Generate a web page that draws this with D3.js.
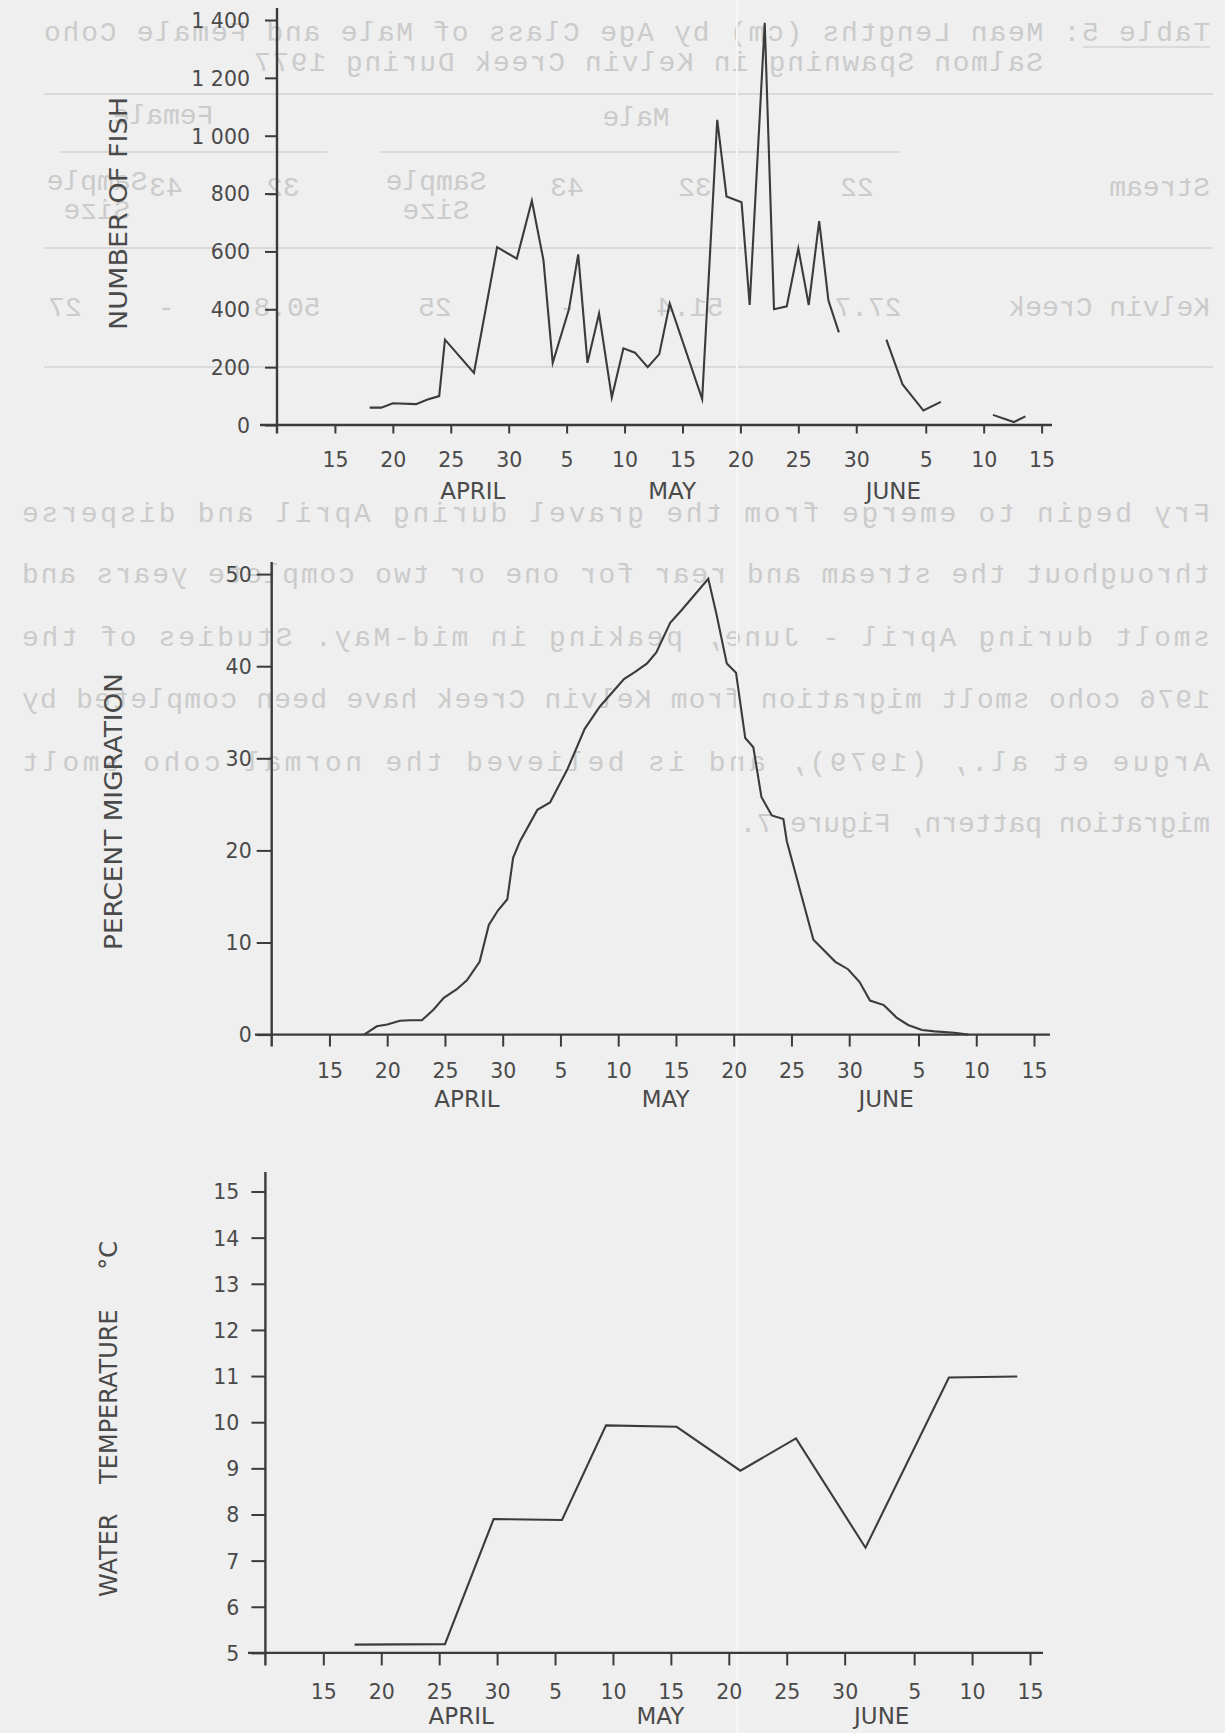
<!DOCTYPE html>
<html>
<head>
<meta charset="utf-8">
<script src="https://cdn.jsdelivr.net/npm/d3@7/dist/d3.min.js"></script>
<style>
  html, body { margin: 0; padding: 0; background: #efefef; }
  svg { display: block; }
</style>
</head>
<body>
<svg id="chart" width="1225" height="1733"></svg>
<script>
// ---------------- DATA (days counted from 31 March: 1 May = 31, 1 June = 62) ----------------
const fishDays   = [18, 19, 20, 22, 23, 24, 24.5, 27, 29, 30.7, 32, 33, 33.8, 35.2, 36, 36.8, 37.8, 38.9, 39.9, 40.9, 42, 43, 43.9, 46.7, 48, 48.8, 50.1, 50.8, 52.1, 52.9, 54, 55, 55.9, 56.8, 57.6, 58.5, 60.5, 62.6, 64, 65.8, 67.3, 69.5, 71.8, 73.6, 74.6];
const fishCounts = [60, 60, 75, 72, 88, 100, 295, 180, 615, 575, 775, 570, 215, 400, 590, 215, 385, 95, 265, 250, 200, 245, 420, 90, 1055, 790, 770, 415, 1390, 400, 410, 610, 415, 705, 430, 320, null, 295, 140, 50, 80, null, 35, 10, 30];

const pctDays   = [18, 19.1, 20, 21.1, 22, 23, 24, 24.9, 26, 26.9, 28, 28.8, 29.6, 30.4, 30.9, 31.5, 33, 34.1, 35.6, 37.1, 38.4, 40.5, 41.5, 42.5, 43.3, 44.5, 45.5, 47.8, 48.5, 49.4, 50.2, 51.0, 51.7, 52.4, 53.3, 54.3, 54.6, 56.9, 58.8, 59.9, 60.9, 61.8, 63.0, 64.1, 65.1, 66.3, 67.4, 69.1, 70.3];
const pctValues = [0, 0.9, 1.1, 1.5, 1.55, 1.55, 2.7, 4.0, 4.9, 5.9, 7.9, 11.9, 13.5, 14.7, 19.2, 21.0, 24.4, 25.2, 28.8, 33.2, 35.6, 38.6, 39.4, 40.3, 41.5, 44.7, 46.1, 49.5, 45.7, 40.3, 39.3, 32.2, 31.2, 25.8, 23.8, 23.4, 21.0, 10.3, 7.9, 7.1, 5.7, 3.7, 3.2, 1.85, 1.05, 0.5, 0.35, 0.2, 0];

const tempDays   = [17.7, 25.5, 29.7, 35.6, 39.4, 45.5, 51.0, 55.8, 61.8, 69.0, 74.9];
const tempValues = [5.18, 5.19, 7.9, 7.88, 9.93, 9.9, 8.95, 9.65, 7.28, 10.97, 10.99];

const dayTicks      = [15, 20, 25, 30, 35, 40, 45, 50, 55, 60, 66, 71, 76];
const dayTickLabels = ["15", "20", "25", "30", "5", "10", "15", "20", "25", "30", "5", "10", "15"];
const monthNames = ["APRIL", "MAY", "JUNE"];
const monthDays  = [26.9, 44.1, 63.2];

const fishTicks      = [0, 200, 400, 600, 800, 1000, 1200, 1400];
const fishTickLabels = ["0", "200", "400", "600", "800", "1 000", "1 200", "1 400"];
const pctTicks       = [0, 10, 20, 30, 40, 50];
const tempTicks      = [5, 6, 7, 8, 9, 10, 11, 12, 13, 14, 15];

// show-through text of the reverse page (mirrored in the scan)
const ghostTitle = ["Table 5: Mean Lengths (cm) by Age Class of Male and Female Coho",
                    "Salmon Spawning in Kelvin Creek During 1977"];
const ghostHeader = ["Male", "Female"];
const ghostRow1 = ["Stream", "22", "32", "43", "Sample", "32", "43", "Sample"];
const ghostRow2 = ["Kelvin Creek", "27.7", "51.4", "-", "25", "50.8", "-", "27"];
const ghostPara = [
  "Fry begin to emerge from the gravel during April and disperse",
  "throughout the stream and rear for one or two complete years and",
  "smolt during April - June, peaking in mid-May.  Studies of the",
  "1976 coho smolt migration from Kelvin Creek have been completed by",
  "Argue et al., (1979), and is believed the normal coho smolt",
  "migration pattern, Figure 7."
];

// ---------------- LAYOUT ----------------
const svg = d3.select("#chart");
const INK = "#3b3b3b", TXT = "#4a4a4a", GHOST = "#cbcbcb";
const FONT = "'DejaVu Sans', 'Noto Sans', sans-serif";

// ---- ghost (show-through) layer ----
const g0 = svg.append("g").attr("transform", "translate(1225,0) scale(-1,1)")
  .attr("fill", GHOST).attr("font-family", "'Liberation Mono', 'DejaVu Sans Mono', monospace").attr("font-size", 28);
g0.append("text").attr("x", 15).attr("y", 41).attr("textLength", 1166).attr("lengthAdjust", "spacing").text(ghostTitle[0]);
g0.append("text").attr("x", 182).attr("y", 71).attr("textLength", 789).attr("lengthAdjust", "spacing").text(ghostTitle[1]);
const ghostRules = [[15, 142, 47], [12, 1181, 94], [325, 845, 152], [898, 1165, 152], [12, 1181, 248], [12, 1181, 367]];
g0.selectAll("line.gr").data(ghostRules).join("line")
  .attr("x1", d => d[0]).attr("x2", d => d[1]).attr("y1", d => d[2]).attr("y2", d => d[2])
  .attr("stroke", "#d3d3d3").attr("stroke-width", 1.6);
[[589, 126], [1062, 124]].forEach((p, i) =>
  g0.append("text").attr("x", p[0]).attr("y", p[1]).attr("text-anchor", "middle").text(ghostHeader[i]));
const row1X = [15, 368, 530, 658, 789, 942, 1059, 1128];
ghostRow1.forEach((t, i) => {
  const isSample = t === "Sample";
  g0.append("text").attr("x", row1X[i]).attr("y", isSample ? 190 : 196)
    .attr("text-anchor", i === 0 ? "start" : "middle").text(t);
  if (isSample) g0.append("text").attr("x", row1X[i]).attr("y", 219).attr("text-anchor", "middle").text("Size");
});
const row2X = [15, 357, 535, 658, 790, 938, 1059, 1160];
ghostRow2.forEach((t, i) => g0.append("text").attr("x", row2X[i]).attr("y", 316)
  .attr("text-anchor", i === 0 ? "start" : "middle").text(t));
const paraY = [522, 583, 646, 708, 771, 832];
ghostPara.forEach((t, i) => {
  const tx = g0.append("text").attr("x", 15).attr("y", paraY[i]).text(t);
  if (i < ghostPara.length - 1) tx.attr("textLength", 1188).attr("lengthAdjust", "spacing");
});
// faint scanner seam
svg.append("rect").attr("x", 736).attr("y", 0).attr("width", 2).attr("height", 1733).attr("fill", "#f6f6f6");

// ---- panels ----
const panels = [
  { days: fishDays, vals: fishCounts, ticks: fishTicks, tickLabels: fishTickLabels, domain: [0, 1400],
    x0: 277, ppd: 11.585, yBot: 425, yTop: 20, axisLeft: 260, axisRight: 1052, axisTop: 8,
    yTick: 12, yPad: 15, xTick: 8.5, xLabDy: 34.3, monthDy: 65.5,
    title: "NUMBER OF FISH", titleX: 118, titleY: 213.5, titleLen: 233 },
  { days: pctDays, vals: pctValues, ticks: pctTicks, tickLabels: pctTicks.map(String), domain: [0, 50],
    x0: 271.7, ppd: 11.55, yBot: 1034.6, yTop: 1034.6 - 50 * 9.21, axisLeft: 255, axisRight: 1050, axisTop: 562,
    yTick: 15, yPad: 5, xTick: 12, xLabDy: 36.3, monthDy: 64,
    title: "PERCENT MIGRATION", titleX: 113, titleY: 811.5, titleLen: 277 },
  { days: tempDays, vals: tempValues, ticks: tempTicks, tickLabels: tempTicks.map(String), domain: [5, 15],
    x0: 265.4, ppd: 11.585, yBot: 1652.9, yTop: 1191.5, axisLeft: 248, axisRight: 1043, axisTop: 1172,
    yTick: 14, yPad: 12, xTick: 12.5, xLabDy: 38.5, monthDy: 63,
    title: null, titleX: 108 }
];

panels.forEach((p, pi) => {
  const x = d3.scaleLinear().domain([10, 76]).range([p.x0, p.x0 + 66 * p.ppd]);
  const y = d3.scaleLinear().domain(p.domain).range([p.yBot, p.yTop]);
  const g = svg.append("g");

  // x axis ticks + labels
  const xa = g.append("g").attr("transform", `translate(0,${p.yBot})`)
    .call(d3.axisBottom(x).tickValues(dayTicks).tickFormat((d, i) => dayTickLabels[i]).tickSize(p.xTick).tickSizeOuter(0));
  xa.select(".domain").remove();
  xa.selectAll(".tick line").attr("stroke", INK).attr("stroke-width", 2);
  xa.selectAll(".tick text").attr("y", p.xLabDy).attr("dy", "0.36em")
    .attr("fill", TXT).attr("font-family", FONT).attr("font-size", 20.5);

  // y axis ticks + labels
  const ya = g.append("g").attr("transform", `translate(${p.x0},0)`)
    .call(d3.axisLeft(y).tickValues(p.ticks).tickFormat((d, i) => p.tickLabels[i]).tickSize(p.yTick).tickPadding(p.yPad).tickSizeOuter(0));
  ya.select(".domain").remove();
  ya.selectAll(".tick line").attr("stroke", INK).attr("stroke-width", 2);
  ya.selectAll(".tick text").attr("dy", "0.36em")
    .attr("fill", TXT).attr("font-family", FONT).attr("font-size", 20.5);

  // axis lines
  g.append("line").attr("x1", p.axisLeft).attr("x2", p.axisRight).attr("y1", p.yBot).attr("y2", p.yBot)
    .attr("stroke", INK).attr("stroke-width", 2.4);
  g.append("line").attr("x1", p.x0).attr("x2", p.x0).attr("y1", p.axisTop).attr("y2", p.yBot + p.xTick)
    .attr("stroke", INK).attr("stroke-width", 2.4);

  // month labels
  g.selectAll("text.month").data(monthNames).join("text").attr("class", "month")
    .attr("x", (d, i) => x(monthDays[i])).attr("y", p.yBot + p.monthDy).attr("dy", "0.36em")
    .attr("text-anchor", "middle").attr("fill", TXT).attr("font-family", FONT).attr("font-size", 23)
    .text(d => d);

  // data line
  const pts = p.days.map((d, i) => ({ d, v: p.vals[i] }));
  const line = d3.line().defined(d => d.v !== null).x(d => x(d.d)).y(d => y(d.v));
  g.append("path").datum(pts).attr("d", line).attr("fill", "none")
    .attr("stroke", INK).attr("stroke-width", 2.1).attr("stroke-linejoin", "miter").attr("stroke-miterlimit", 6);

  // axis title
  if (p.title) {
    g.append("text").attr("transform", `translate(${p.titleX},${p.titleY}) rotate(-90)`)
      .attr("dy", "0.36em").attr("text-anchor", "middle")
      .attr("textLength", p.titleLen).attr("lengthAdjust", "spacingAndGlyphs")
      .attr("fill", TXT).attr("font-family", FONT).attr("font-size", 24).text(p.title);
  } else {
    const t = g.append("text").attr("transform", `translate(${p.titleX},1597) rotate(-90)`)
      .attr("dy", "0.36em").attr("text-anchor", "start")
      .attr("fill", TXT).attr("font-family", FONT).attr("font-size", 24);
    t.append("tspan").text("WATER");
    t.append("tspan").attr("dx", 22).text(" TEMPERATURE");
    t.append("tspan").attr("dx", 32).text(" °C");
  }
});
</script>
</body>
</html>
